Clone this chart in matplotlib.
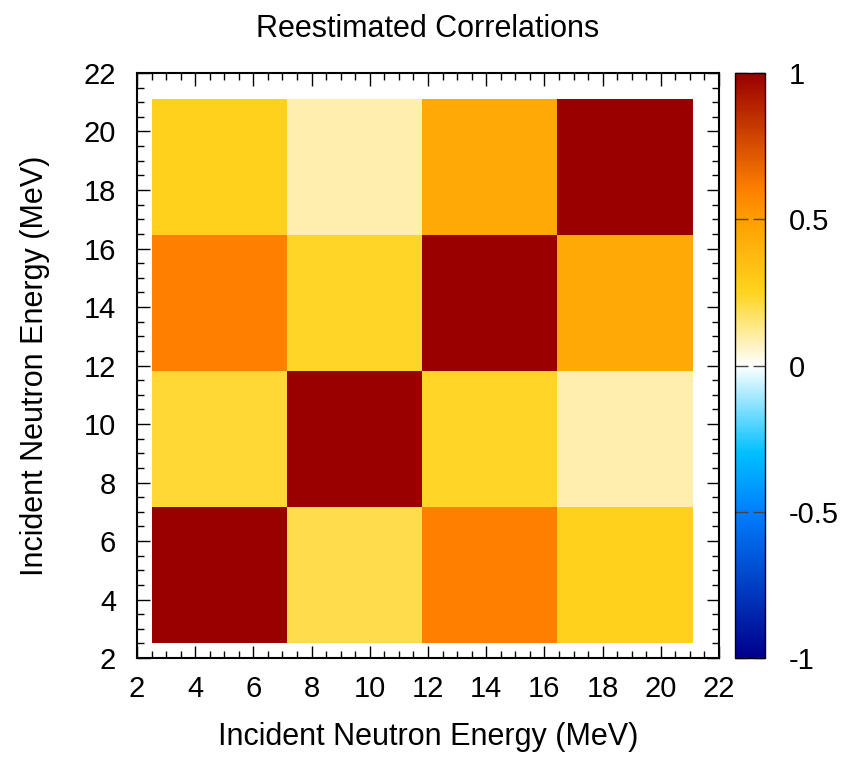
import numpy as np
import matplotlib
matplotlib.use("Agg")
import matplotlib.pyplot as plt
from matplotlib.colors import LinearSegmentedColormap
from matplotlib.ticker import MultipleLocator

plt.rcParams["font.family"] = ["Liberation Sans", "DejaVu Sans"]

# energy bin edges (MeV) and the correlation matrix, rows from low to high energy
bin_edges = [2.5, 7.15, 11.8, 16.45, 21.1]
corr_row1 = [1.00, 0.20, 0.60, 0.26]
corr_row2 = [0.22, 1.00, 0.24, 0.09]
corr_row3 = [0.60, 0.24, 1.00, 0.45]
corr_row4 = [0.26, 0.09, 0.45, 1.00]
cbar_ticks = [-1, -0.5, 0, 0.5, 1]
cbar_labels = ["-1", "-0.5", "0", "0.5", "1"]

corr = np.array([corr_row1, corr_row2, corr_row3, corr_row4])

cmap = LinearSegmentedColormap.from_list(
    "corr",
    [
        (0.00, (0.00, 0.00, 0.55)),
        (0.25, (0.00, 0.50, 1.00)),
        (0.35, (0.00, 0.75, 1.00)),
        (0.50, (1.00, 1.00, 1.00)),
        (0.625, (1.00, 0.83, 0.12)),
        (0.75, (1.00, 0.62, 0.00)),
        (0.80, (1.00, 0.50, 0.00)),
        (1.00, (0.60, 0.00, 0.00)),
    ],
)

fig = plt.figure(figsize=(8.46, 7.58), dpi=100)
ax = fig.add_axes([0.1619, 0.1319, 0.688, 0.7718])
cax = fig.add_axes([0.8688, 0.1319, 0.0355, 0.7718])

mesh = ax.pcolormesh(bin_edges, bin_edges, corr, cmap=cmap, vmin=-1, vmax=1)

ax.set_xlim(2, 22)
ax.set_ylim(2, 22)
ax.xaxis.set_major_locator(MultipleLocator(2))
ax.yaxis.set_major_locator(MultipleLocator(2))
ax.xaxis.set_minor_locator(MultipleLocator(0.5))
ax.yaxis.set_minor_locator(MultipleLocator(0.5))
ax.tick_params(which="both", direction="in", top=True, right=True, labelsize=21, width=1)
ax.tick_params(which="major", length=9)
ax.tick_params(axis="x", which="major", pad=12)
ax.tick_params(axis="y", which="major", pad=15)
ax.tick_params(which="minor", length=5)
for s in ax.spines.values():
    s.set_linewidth(1.5)

ax.set_xlabel("Incident Neutron Energy (MeV)", fontsize=22, labelpad=14)
ax.set_ylabel("Incident Neutron Energy (MeV)", fontsize=22, labelpad=24)
ax.set_title("Reestimated Correlations", fontsize=22, pad=26)

cb = fig.colorbar(mesh, cax=cax)
cb.set_ticks(cbar_ticks)
cb.set_ticklabels(cbar_labels)
cb.ax.tick_params(direction="in", left=True, right=True, length=9, width=1,
                  color="#444444", labelsize=21, pad=17)
cb.outline.set_linewidth(1)

fig.savefig("out.png", dpi=100)
